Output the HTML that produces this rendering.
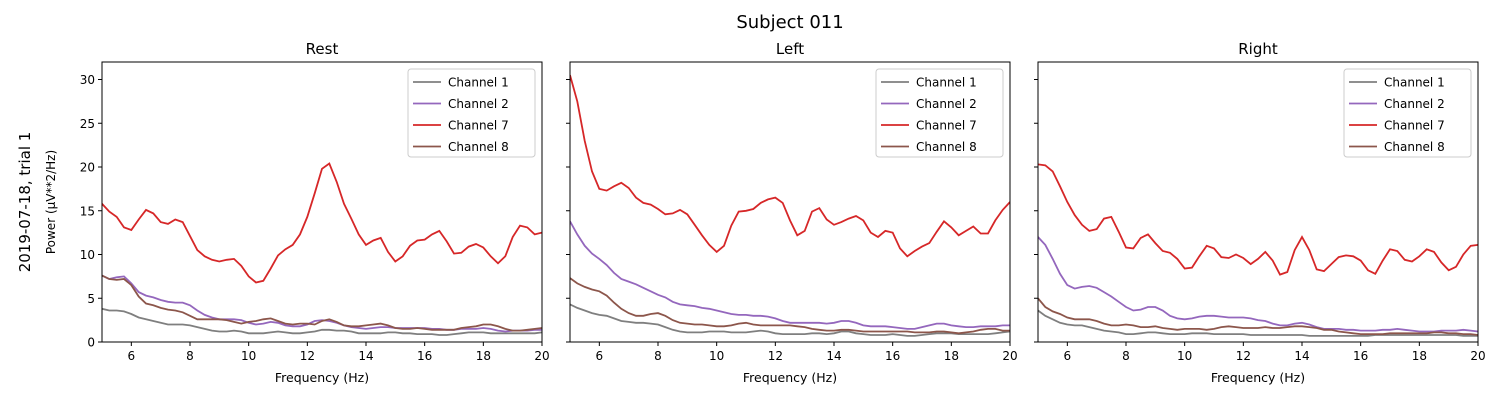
<!DOCTYPE html>
<html><head><meta charset="utf-8"><style>
body{margin:0;background:#fff}
svg{display:block;font-family:"DejaVu Sans","Liberation Sans",sans-serif}
</style></head><body>
<svg id="fig" width="1500" height="400" viewBox="0 0 1500 400" xmlns="http://www.w3.org/2000/svg">
<rect width="1500" height="400" fill="#fff"/>
<text x="790" y="28" font-size="18" text-anchor="middle">Subject 011</text>
<text transform="translate(30,202) rotate(-90)" font-size="15" text-anchor="middle">2019-07-18, trial 1</text>
<text transform="translate(55,202) rotate(-90)" font-size="12" text-anchor="middle">Power (µV**2/Hz)</text>
</svg>
<script>
const xStart=5, xStep=0.25;
const xTicks=[6,8,10,12,14,16,18,20];
const yTicks=[0,5,10,15,20,25,30];
const panelTitles=["Rest","Left","Right"];
const channelNames=["Channel 1","Channel 2","Channel 7","Channel 8"];
const channelColors=["#7f7f7f","#9467bd","#d62728","#8c564b"];
const restCh1=[3.8,3.6,3.6,3.5,3.2,2.8,2.6,2.4,2.2,2.0,2.0,2.0,1.9,1.7,1.5,1.3,1.2,1.2,1.3,1.2,1.0,1.0,1.0,1.1,1.2,1.1,1.0,1.0,1.1,1.2,1.4,1.4,1.3,1.3,1.2,1.0,1.0,1.0,1.0,1.1,1.1,1.0,1.0,0.9,0.9,0.9,0.8,0.8,0.9,1.0,1.1,1.1,1.1,1.0,1.0,1.0,1.0,1.0,1.0,1.0,1.1];
const restCh2=[7.6,7.2,7.4,7.5,6.7,5.7,5.3,5.1,4.8,4.6,4.5,4.5,4.2,3.6,3.1,2.8,2.6,2.6,2.6,2.5,2.2,2.0,2.1,2.3,2.2,1.9,1.8,1.8,2.0,2.4,2.5,2.4,2.2,1.9,1.7,1.6,1.5,1.6,1.7,1.7,1.6,1.6,1.6,1.6,1.6,1.5,1.5,1.4,1.4,1.5,1.5,1.5,1.6,1.5,1.3,1.2,1.3,1.3,1.3,1.4,1.4];
const restCh7=[15.8,14.9,14.3,13.1,12.8,14.0,15.1,14.7,13.7,13.5,14.0,13.7,12.1,10.5,9.8,9.4,9.2,9.4,9.5,8.7,7.5,6.8,7.0,8.4,9.9,10.6,11.1,12.3,14.3,17.0,19.8,20.4,18.3,15.8,14.1,12.3,11.1,11.6,11.9,10.3,9.2,9.8,11.0,11.6,11.7,12.3,12.7,11.5,10.1,10.2,10.9,11.2,10.8,9.8,9.0,9.8,12.0,13.3,13.1,12.3,12.5];
const restCh8=[7.6,7.2,7.1,7.2,6.5,5.2,4.4,4.2,3.9,3.7,3.6,3.4,3.0,2.6,2.6,2.6,2.6,2.5,2.3,2.1,2.3,2.4,2.6,2.7,2.4,2.1,2.0,2.1,2.1,2.0,2.4,2.6,2.3,1.9,1.8,1.8,1.9,2.0,2.1,1.9,1.6,1.5,1.5,1.6,1.5,1.4,1.4,1.4,1.4,1.6,1.7,1.8,2.0,2.0,1.8,1.5,1.3,1.3,1.4,1.5,1.6];
const leftCh1=[4.3,3.9,3.6,3.3,3.1,3.0,2.7,2.4,2.3,2.2,2.2,2.1,2.0,1.7,1.4,1.2,1.1,1.1,1.1,1.2,1.2,1.2,1.1,1.1,1.1,1.2,1.3,1.2,1.0,0.9,0.9,0.9,0.9,1.0,1.0,0.9,1.0,1.2,1.2,1.0,0.9,0.8,0.8,0.8,0.9,0.8,0.7,0.7,0.8,0.9,1.0,1.0,1.0,0.9,0.9,0.9,0.9,0.9,1.0,1.1,1.2];
const leftCh2=[13.8,12.3,11.0,10.1,9.5,8.8,7.9,7.2,6.9,6.6,6.2,5.8,5.4,5.1,4.6,4.3,4.2,4.1,3.9,3.8,3.6,3.4,3.2,3.1,3.1,3.0,3.0,2.9,2.7,2.4,2.2,2.2,2.2,2.2,2.2,2.1,2.2,2.4,2.4,2.2,1.9,1.8,1.8,1.8,1.7,1.6,1.5,1.5,1.7,1.9,2.1,2.1,1.9,1.8,1.7,1.7,1.8,1.8,1.8,1.9,1.9];
const leftCh7=[30.5,27.5,23.0,19.5,17.5,17.3,17.8,18.2,17.6,16.5,15.9,15.7,15.2,14.6,14.7,15.1,14.6,13.4,12.2,11.1,10.3,11.0,13.3,14.9,15.0,15.2,15.9,16.3,16.5,15.9,13.9,12.2,12.7,14.9,15.3,14.0,13.4,13.7,14.1,14.4,13.9,12.5,12.0,12.7,12.5,10.7,9.8,10.4,10.9,11.3,12.6,13.8,13.1,12.2,12.7,13.2,12.4,12.4,13.9,15.1,16.0];
const leftCh8=[7.3,6.7,6.3,6.0,5.8,5.3,4.5,3.8,3.3,3.0,3.0,3.2,3.3,3.0,2.5,2.2,2.1,2.0,2.0,1.9,1.8,1.8,1.9,2.1,2.2,2.0,1.9,1.9,1.9,1.9,1.9,1.8,1.7,1.5,1.4,1.3,1.3,1.4,1.4,1.3,1.2,1.2,1.2,1.2,1.2,1.2,1.2,1.1,1.1,1.1,1.2,1.2,1.1,1.0,1.1,1.2,1.4,1.5,1.5,1.3,1.3];
const rightCh1=[3.6,3.0,2.6,2.2,2.0,1.9,1.9,1.7,1.5,1.3,1.2,1.1,0.9,0.9,1.0,1.1,1.1,1.0,0.9,0.9,0.9,1.0,1.0,1.0,0.9,0.9,0.9,0.9,0.9,0.8,0.8,0.8,0.8,0.8,0.8,0.8,0.8,0.7,0.7,0.7,0.7,0.7,0.7,0.7,0.7,0.7,0.8,0.8,0.8,0.8,0.8,0.8,0.8,0.8,0.8,0.8,0.8,0.8,0.7,0.7,0.7];
const rightCh2=[12.0,11.1,9.5,7.8,6.5,6.1,6.3,6.4,6.2,5.7,5.2,4.6,4.0,3.6,3.7,4.0,4.0,3.6,3.0,2.7,2.6,2.7,2.9,3.0,3.0,2.9,2.8,2.8,2.8,2.7,2.5,2.4,2.1,1.9,1.9,2.1,2.2,2.0,1.7,1.5,1.5,1.5,1.4,1.4,1.3,1.3,1.3,1.4,1.4,1.5,1.4,1.3,1.2,1.2,1.2,1.3,1.3,1.3,1.4,1.3,1.2];
const rightCh7=[20.3,20.2,19.5,17.8,16.0,14.5,13.4,12.7,12.9,14.1,14.3,12.6,10.8,10.7,11.9,12.3,11.3,10.4,10.2,9.5,8.4,8.5,9.8,11.0,10.7,9.7,9.6,10.0,9.6,8.9,9.5,10.3,9.3,7.7,8.0,10.5,12.0,10.5,8.3,8.1,8.9,9.7,9.9,9.8,9.3,8.2,7.8,9.3,10.6,10.4,9.4,9.2,9.8,10.6,10.3,9.1,8.2,8.6,10.0,11.0,11.1];
const rightCh8=[5.0,4.0,3.5,3.2,2.8,2.6,2.6,2.6,2.4,2.1,1.9,1.9,2.0,1.9,1.7,1.7,1.8,1.6,1.5,1.4,1.5,1.5,1.5,1.4,1.5,1.7,1.8,1.7,1.6,1.6,1.6,1.7,1.6,1.6,1.7,1.8,1.8,1.7,1.6,1.4,1.4,1.2,1.1,1.0,0.9,0.9,0.9,0.9,1.0,1.0,1.0,1.0,1.0,1.0,1.1,1.1,1.0,1.0,0.9,0.9,0.8];
const panelSeries=[[restCh1,restCh2,restCh7,restCh8],[leftCh1,leftCh2,leftCh7,leftCh8],[rightCh1,rightCh2,rightCh7,rightCh8]];

const NS="http://www.w3.org/2000/svg";
const svg=document.getElementById('fig');
function mk(tag,attrs,par){const e=document.createElementNS(NS,tag);for(const k in attrs)e.setAttribute(k,attrs[k]);(par||svg).appendChild(e);return e;}
const lefts=[102,570,1038], W=440, topY=62, bottomY=342, xMin=5,xMax=20,yMin=0,yMax=32;
panelSeries.forEach((series,p)=>{
  const L=lefts[p];
  const sx=v=>L+(v-xMin)/(xMax-xMin)*W;
  const sy=v=>bottomY-(v-yMin)/(yMax-yMin)*(bottomY-topY);
  const g=mk('g',{});
  
  
  const cid='clip'+p;
  const cp=mk('clipPath',{id:cid},g); mk('rect',{x:L,y:topY,width:W,height:bottomY-topY},cp);
  const t=mk('text',{x:L+W/2,y:54,'font-size':15,'text-anchor':'middle'},g); t.textContent=panelTitles[p];
  
  
  series.forEach((vals,c)=>{
    const pts=vals.map((v,i)=>sx(xStart+i*xStep).toFixed(1)+','+sy(v).toFixed(1)).join(' ');
    const pl=mk('polyline',{points:pts,fill:'none',stroke:channelColors[c],'stroke-width':1.8,'clip-path':'url(#'+cid+')'},g);
    
    
  });
  const fr=mk('rect',{x:L,y:topY,width:W,height:bottomY-topY,fill:'none',stroke:'#000','stroke-width':1},g);
  
  
  xTicks.forEach(v=>{
    mk('line',{x1:sx(v),x2:sx(v),y1:bottomY,y2:bottomY+4,stroke:'#000'},g);
    const tl=mk('text',{x:sx(v),y:bottomY+18,'font-size':12,'text-anchor':'middle'},g); tl.textContent=v;
    
    
  });
  yTicks.forEach(v=>{
    mk('line',{x1:L-4,x2:L,y1:sy(v),y2:sy(v),stroke:'#000'},g);
    if(p===0){const tl=mk('text',{x:L-7,y:sy(v)+4.5,'font-size':12,'text-anchor':'end'},g); tl.textContent=v;
      
      }
  });
  const xl=mk('text',{x:L+W/2,y:382,'font-size':12.5,'text-anchor':'middle'},g); xl.textContent='Frequency (Hz)';
  
  
  const lg=mk('g',{},g);
  
  
  const lx=L+W-127-7, ly=topY+7;
  mk('rect',{x:lx,y:ly,width:127,height:88,rx:3,fill:'#fff','fill-opacity':0.8,stroke:'#ccc'},lg);
  channelNames.forEach((n,c)=>{
    const yy=ly+13+c*21.5;
    const e=mk('g',{},lg);
    
    
    mk('line',{x1:lx+5,x2:lx+33,y1:yy,y2:yy,stroke:channelColors[c],'stroke-width':1.8},e);
    const tx=mk('text',{x:lx+40,y:yy+4.5,'font-size':12},e); tx.textContent=n;
  });
});
</script>
</body></html>
